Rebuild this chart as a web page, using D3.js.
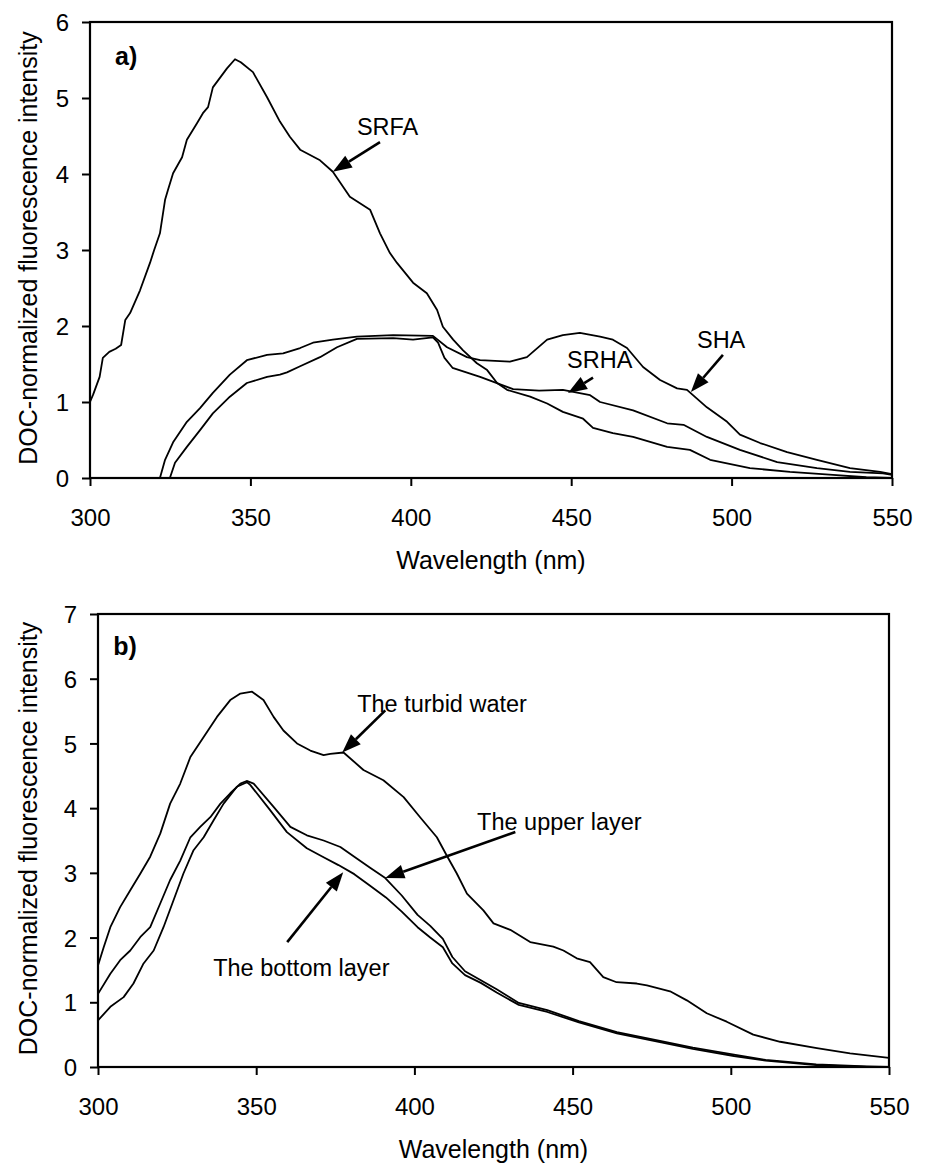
<!DOCTYPE html>
<html>
<head>
<meta charset="utf-8">
<script src="https://cdn.jsdelivr.net/npm/d3@7"></script>
<style>
  body { margin: 0; background: #fff; }
  svg text { font-family: "Liberation Sans", Arial, sans-serif; fill: #000; }
</style>
</head>
<body>
<div id="chart"></div>
<script>
// wavelength (nm), DOC-normalized intensity
const xTicks = [300, 350, 400, 450, 500, 550]
const yTicksA = [0, 1, 2, 3, 4, 5, 6]
const yTicksB = [0, 1, 2, 3, 4, 5, 6, 7]

const srfa = [[300,1.0],[301,1.1],[303,1.33],[304,1.58],[306,1.66],[308,1.7],[309.7,1.75],[311,2.08],[312.5,2.17],[315.6,2.47],[318.7,2.83],[320,3.0],[321.8,3.22],[323.4,3.66],[324.3,3.79],[325.9,4.01],[328.7,4.22],[330.2,4.45],[333.4,4.67],[335.2,4.8],[336.8,4.88],[338.3,5.14],[342.7,5.39],[345.2,5.51],[347,5.47],[350.8,5.34],[355.2,5.01],[359.2,4.69],[362.3,4.49],[365.5,4.32],[371.7,4.18],[375.7,4.03],[381,3.7],[387.3,3.53],[390.4,3.22],[393.5,2.96],[395.7,2.83],[400.7,2.57],[405,2.43],[408.2,2.21],[410,1.99],[413.2,1.82],[416.3,1.68],[420.6,1.51],[423.8,1.42],[426.9,1.25],[430,1.16],[437.2,1.07],[442.5,0.98],[447.4,0.87],[453.7,0.78],[456.8,0.66],[463,0.59],[469.3,0.54],[479.9,0.41],[487,0.37],[493.3,0.24],[505.7,0.13],[518.2,0.08],[531.6,0.04],[542,0.01],[550,0.0]]

const sha = [[321.8,0],[323.4,0.24],[325.9,0.47],[330.2,0.74],[334.3,0.92],[338.3,1.12],[343.6,1.36],[348.9,1.55],[355.2,1.62],[360.2,1.64],[365.5,1.71],[369.5,1.78],[375.7,1.82],[383.2,1.86],[394.5,1.88],[406.9,1.87],[411.3,1.72],[417.5,1.59],[421.6,1.55],[430.9,1.53],[436.2,1.59],[442.5,1.82],[447.4,1.88],[452.7,1.91],[459,1.86],[463,1.82],[467.4,1.71],[472.4,1.46],[477.7,1.29],[483,1.18],[486.1,1.16],[492.3,0.93],[498.6,0.74],[502.6,0.57],[508.9,0.46],[517.3,0.34],[526.6,0.24],[536.9,0.13],[546.3,0.08],[550,0.05]]

const srha = [[324.9,0],[326.5,0.2],[330.2,0.41],[334.3,0.63],[338.3,0.85],[343.6,1.07],[348.9,1.25],[355.2,1.33],[359.2,1.36],[361.4,1.39],[365.5,1.47],[371.7,1.59],[377,1.72],[383.2,1.83],[394.5,1.84],[400.7,1.82],[406.9,1.85],[408.5,1.78],[410.5,1.58],[413,1.45],[421.6,1.33],[431.9,1.17],[440,1.15],[447.4,1.16],[455.9,1.09],[459,1.0],[469.3,0.89],[479.9,0.72],[485,0.7],[492.3,0.54],[502.6,0.37],[514.2,0.21],[526.6,0.13],[536.9,0.08],[547.2,0.06],[550,0.04]]

const turbid = [[300,1.57],[301.8,1.85],[303.9,2.16],[307,2.47],[310.2,2.73],[313.4,2.99],[316.5,3.25],[319.7,3.61],[322.8,4.07],[326,4.38],[329.2,4.79],[333.4,5.1],[337.6,5.41],[341.8,5.67],[345,5.77],[348.7,5.8],[352.3,5.67],[355.5,5.41],[358.6,5.2],[362.9,5.0],[367.1,4.89],[371.3,4.82],[373.4,4.84],[377.6,4.86],[383.9,4.59],[390.2,4.43],[396.6,4.17],[401.8,3.86],[407.1,3.55],[410.3,3.26],[413.4,2.99],[416.6,2.68],[421.8,2.42],[425,2.22],[430.3,2.12],[436.6,1.93],[443.9,1.86],[447.1,1.8],[451.3,1.68],[455.5,1.62],[459.7,1.39],[463.9,1.31],[470.3,1.29],[473.5,1.26],[480.8,1.17],[486.1,1.03],[492.4,0.83],[498.7,0.7],[507.1,0.5],[515.6,0.39],[527.2,0.29],[537.7,0.21],[550,0.14]]

const upperLayer = [[300,1.13],[303.9,1.44],[307,1.65],[310.2,1.8],[313.4,2.01],[316.5,2.16],[319.7,2.53],[322.8,2.89],[326,3.19],[329.2,3.55],[332.3,3.71],[335.5,3.86],[338.7,4.07],[341.8,4.23],[345,4.38],[347,4.42],[349.2,4.38],[355.5,4.02],[360.8,3.71],[366,3.58],[371.3,3.5],[376.6,3.4],[381,3.25],[386,3.08],[390.8,2.92],[396,2.65],[401,2.35],[405,2.18],[409,1.98],[412,1.7],[416,1.48],[421,1.34],[426,1.2],[433,0.99],[442,0.88],[452,0.71],[464,0.54],[478,0.4],[488,0.3],[501,0.19],[511,0.11],[527,0.04],[543,0.01],[550,0.0]]

const bottomLayer = [[300,0.72],[303.9,0.93],[308.1,1.08],[311.2,1.29],[314.4,1.6],[317.6,1.8],[320.7,2.16],[323.9,2.58],[327,2.99],[330.2,3.35],[333.4,3.55],[336.5,3.81],[339.7,4.07],[343.9,4.33],[347.1,4.4],[348.1,4.36],[354.4,3.97],[359.7,3.63],[366,3.38],[371,3.25],[376,3.12],[381,2.98],[386,2.8],[391,2.62],[396,2.4],[401,2.16],[405,2.0],[409,1.85],[412,1.6],[416,1.42],[421,1.3],[426,1.15],[433,0.96],[442,0.85],[452,0.69],[464,0.52],[478,0.38],[488,0.28],[501,0.17],[511,0.1],[527,0.03],[543,0.0],[550,0.0]]

// annotations: label, text position, arrow start, arrow tip (data units)
const notesA = [
    { text: "SRFA", at: [383.2, 4.51], from: [390.4, 4.42], to: [375.7, 4.03] },
    { text: "SRHA", at: [448.7, 1.45], from: [456.8, 1.32], to: [449.0, 1.12] },
    { text: "SHA",  at: [489.2, 1.71], from: [497.3, 1.62], to: [487.3, 1.13] }
]
const notesB = [
    { text: "The turbid water", at: [381.9, 5.48], from: [390.8, 5.51], to: [377.2, 4.86] },
    { text: "The upper layer",  at: [419.8, 3.66], from: [431.9, 3.63], to: [390.8, 2.92] },
    { text: "The bottom layer", at: [336.4, 1.40], from: [359.8, 1.93], to: [377.5, 3.01] }
]

const width = 925, height = 1164

const svg = d3.select("#chart")
    .append("svg")
        .attr("width", width)
        .attr("height", height)

function arrow(g, x1, y1, x2, y2)
{
    const ang = Math.atan2(y2 - y1, x2 - x1)
    const len = 19, half = 7
    const bx = x2 - len * Math.cos(ang), by = y2 - len * Math.sin(ang)
    g.append("line")
        .attr("x1", x1).attr("y1", y1)
        .attr("x2", bx).attr("y2", by)
        .attr("stroke", "#000")
        .attr("stroke-width", 2.6)
    g.append("path")
        .attr("d", `M${x2},${y2}L${bx + half * Math.sin(ang)},${by - half * Math.cos(ang)}L${bx - half * Math.sin(ang)},${by + half * Math.cos(ang)}Z`)
        .attr("fill", "#000")
}

function draw_panel(p)
{
    const x = d3.scaleLinear().domain([300, 550]).range([p.left, p.right])
    const y = d3.scaleLinear().domain([0, p.ymax]).range([p.bottom, p.top])
    const g = svg.append("g")

    const line = d3.line().x(d => x(d[0])).y(d => y(d[1]))
    p.series.forEach(s => {
        g.append("path")
            .datum(s)
            .attr("fill", "none")
            .attr("stroke", "#000")
            .attr("stroke-width", 1.8)
            .attr("stroke-linejoin", "round")
            .attr("d", line)
    })

    const xa = g.append("g")
        .attr("transform", `translate(0, ${p.bottom})`)
        .call(d3.axisBottom(x).tickValues(xTicks).tickSize(8).tickSizeOuter(0).tickFormat(d3.format("d")))
    const ya = g.append("g")
        .attr("transform", `translate(${p.left}, 0)`)
        .call(d3.axisLeft(y).tickValues(p.yTicks).tickSize(8).tickSizeOuter(0).tickFormat(d3.format("d")))
    ;[xa, ya].forEach(a => {
        a.select(".domain").remove()
        a.selectAll("line").attr("stroke", "#000").attr("stroke-width", 2)
        a.selectAll("text").style("font-size", "24px").attr("fill", "#000")
    })
    xa.selectAll("text").attr("y", 48).attr("dy", 0)
    ya.selectAll("text").attr("x", -21).attr("dy", "0.36em")

    g.append("rect")
        .attr("x", p.left).attr("y", p.top)
        .attr("width", p.right - p.left).attr("height", p.bottom - p.top)
        .attr("fill", "none")
        .attr("stroke", "#000")
        .attr("stroke-width", 2.2)

    g.append("text")
        .attr("x", (p.left + p.right) / 2)
        .attr("y", p.bottom + 91)
        .attr("text-anchor", "middle")
        .style("font-size", "25px")
        .text("Wavelength (nm)")

    g.append("text")
        .attr("transform", `translate(37, ${(p.top + p.bottom) / 2 - 2}) rotate(-90)`)
        .attr("text-anchor", "middle")
        .style("font-size", "25px")
        .text("DOC-normalized fluorescence intensity")

    g.append("text")
        .attr("x", x(p.tag.at[0])).attr("y", y(p.tag.at[1]))
        .style("font-size", "25px")
        .style("font-weight", "bold")
        .text(p.tag.text)

    p.notes.forEach(n => {
        g.append("text")
            .attr("x", x(n.at[0])).attr("y", y(n.at[1]))
            .style("font-size", "23.5px")
            .text(n.text)
        arrow(g, x(n.from[0]), y(n.from[1]), x(n.to[0]), y(n.to[1]))
    })
}

draw_panel({
    left: 90, right: 892, top: 22, bottom: 478, ymax: 6, yTicks: yTicksA,
    series: [srfa, sha, srha], notes: notesA,
    tag: { text: "a)", at: [307.8, 5.43] }
})

draw_panel({
    left: 98, right: 889, top: 614, bottom: 1067, ymax: 7, yTicks: yTicksB,
    series: [turbid, upperLayer, bottomLayer], notes: notesB,
    tag: { text: "b)", at: [304.8, 6.36] }
})
</script>
</body>
</html>
